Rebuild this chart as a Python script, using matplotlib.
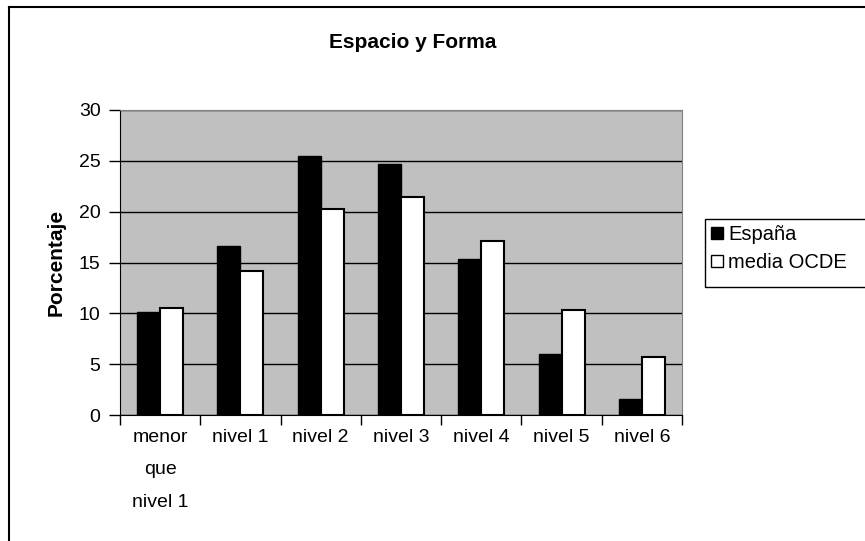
import numpy as np
import matplotlib
matplotlib.use("Agg")
import matplotlib.pyplot as plt
from matplotlib.patches import Patch, Rectangle
from matplotlib.lines import Line2D

plt.rcParams['font.family'] = ['Liberation Sans', 'DejaVu Sans']

# niveles de rendimiento en Espacio y Forma (porcentaje de alumnos)
niveles = ["menor\nque\nnivel 1", "nivel 1", "nivel 2", "nivel 3", "nivel 4", "nivel 5", "nivel 6"]
espana = [10.1, 16.6, 25.5, 24.7, 15.3, 6.0, 1.6]
ocde = [10.5, 14.2, 20.3, 21.4, 17.1, 10.3, 5.7]

W, H = 865, 541
fig = plt.figure(figsize=(W / 100, H / 100), dpi=100)
ax = fig.add_axes([120 / W, 1 - 415 / H, (682 - 120) / W, (415 - 110) / H])
ax.set_facecolor("#C0C0C0")

x = np.arange(len(niveles))
bw = 1 / 3.5
ax.bar(x - bw / 2, espana, bw, color="black", edgecolor="black", linewidth=1, zorder=3)
ax.bar(x + bw / 2, ocde, bw, color="white", edgecolor="black", linewidth=1.5, zorder=3)

ax.set_xlim(-0.5, len(niveles) - 0.5)
ax.set_ylim(0, 30)
ax.set_yticks(range(0, 31, 5))
ax.yaxis.grid(True, color="black", linewidth=1, zorder=1)
ax.set_axisbelow(True)

# ticks de categoría entre grupos, etiquetas centradas
ax.set_xticks(np.arange(-0.5, len(niveles), 1))
ax.set_xticklabels([])
ax.set_xticks(x, minor=True)
ax.set_xticklabels(niveles, minor=True, fontsize=14, linespacing=2.2, va="top")
ax.tick_params(axis="x", which="major", length=7, width=1, direction="out")
ax.tick_params(axis="x", which="minor", length=0, pad=10)
ax.tick_params(axis="y", length=8, width=1, direction="out", pad=6, labelsize=14)

for s in ["top", "right"]:
    ax.spines[s].set_color("#808080")
for s in ["left", "bottom"]:
    ax.spines[s].set_color("black")

ax.set_ylabel("Porcentaje", fontsize=15, fontweight="bold")
ax.yaxis.set_label_coords((66 - 120) / 562, 0.5)
fig.text(413 / W, 1 - 42 / H, "Espacio y Forma", ha="center", va="center",
         fontsize=15, fontweight="bold")

# leyenda
handles = [Patch(facecolor="black", edgecolor="black", linewidth=1),
           Patch(facecolor="white", edgecolor="black", linewidth=1)]
fig.legend(handles, ["España", "media OCDE"], loc="upper left",
           bbox_to_anchor=(711 / W, 1 - 225 / H), frameon=False,
           fontsize=14.5, handlelength=0.6, handleheight=0.6,
           handletextpad=0.25, labelspacing=0.45, borderpad=0, borderaxespad=0)
fig.add_artist(Rectangle((705 / W, 1 - 287 / H), 200 / W, 68 / H,
                         transform=fig.transFigure, facecolor="none",
                         edgecolor="black", linewidth=1))

# marco exterior del gráfico
fig.add_artist(Line2D([9 / W, 9 / W], [0, 1 - 6.5 / H], transform=fig.transFigure,
                      color="black", linewidth=1.5))
fig.add_artist(Line2D([9 / W, 1], [1 - 6.5 / H, 1 - 6.5 / H], transform=fig.transFigure,
                      color="black", linewidth=1.5))

fig.savefig("out.png", dpi=100)
